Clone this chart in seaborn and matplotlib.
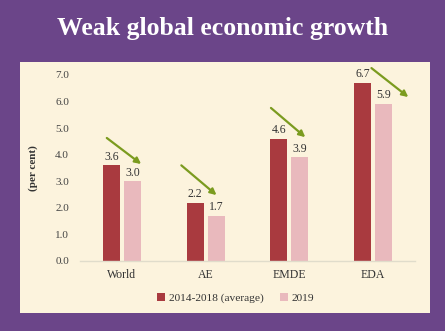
import matplotlib
matplotlib.use("Agg")
import matplotlib.pyplot as plt
import seaborn as sns
import pandas as pd
from matplotlib.patches import Rectangle

categories = ["World", "AE", "EMDE", "EDA"]
avg_2014_2018 = [3.6, 2.2, 4.6, 6.7]
y2019 = [3.0, 1.7, 3.9, 5.9]
series_names = ["2014-2018 (average)", "2019"]
arrow_start = [4.63, 3.6, 5.76, 7.26]
arrow_end = [3.65, 2.48, 4.66, 6.17]
yticks = [0.0, 1.0, 2.0, 3.0, 4.0, 5.0, 6.0, 7.0]

df = pd.DataFrame({
    "cat": categories * 2,
    "val": avg_2014_2018 + y2019,
    "series": [series_names[0]] * 4 + [series_names[1]] * 4,
})

sns.set_theme(style="white")
plt.rcParams["font.family"] = ["Liberation Serif", "DejaVu Serif"]

purple = "#6b4589"
cream = "#fcf3dd"
red = "#a93a3f"
pink = "#e9b9bd"
green = "#7b9b1f"

fig = plt.figure(figsize=(4.45, 3.31), dpi=100, facecolor=purple)
panel = Rectangle((20/445, 1-313/331), 410/445, 251/331,
                  transform=fig.transFigure, facecolor=cream,
                  edgecolor="none", zorder=-5)
fig.patches.append(panel)
fig.text(0.5, 1-29/331, "Weak global economic growth", color="white",
         fontsize=18.5, fontweight="bold", ha="center", va="center")

ax = fig.add_axes([80/445, 1-261/331, 335/445, 186/331])
ax.set_zorder(2)
ax.patch.set_alpha(0)
sns.barplot(data=df, x="cat", y="val", hue="series", palette=[red, pink],
            width=0.5, gap=0.18, ax=ax, legend=True, saturation=1, linewidth=0)

for c in ax.containers:
    ax.bar_label(c, fmt="%.1f", fontsize=8.5, color="#333333", padding=2)

# arrow horizontal offsets (in category units) relative to each category centre
start_dx = [-0.18, -0.29, -0.22, -0.02]
end_dx = [0.23, 0.13, 0.19, 0.42]
for i in range(len(categories)):
    ax.annotate("", xy=(i + end_dx[i], arrow_end[i]),
                xytext=(i + start_dx[i], arrow_start[i]),
                arrowprops=dict(arrowstyle="-|>", color=green, lw=1.6,
                                mutation_scale=9, shrinkA=0, shrinkB=0),
                annotation_clip=False)

ax.set_xlim(-0.5, 3.5)
ax.set_ylim(0, 7)
ax.set_yticks(yticks)
ax.set_yticklabels([f"{t:.1f}" for t in yticks], fontsize=8, color="#444444")
ax.tick_params(axis="x", labelsize=8.5, colors="#333333", length=0, pad=6)
ax.tick_params(axis="y", length=0, pad=8)
ax.set_xlabel("")
ax.set_ylabel("(per cent)", fontsize=8, fontweight="bold", color="#333333", labelpad=12)
for s in ["top", "right", "left"]:
    ax.spines[s].set_visible(False)
ax.spines["bottom"].set_color("#e0dccb")
ax.spines["bottom"].set_linewidth(1)

leg = ax.get_legend()
handles = leg.legend_handles
leg.remove()
fig.legend(handles, series_names, loc="center", bbox_to_anchor=(0.53, 1-298/331),
           ncol=2, frameon=False, fontsize=8.2, handlelength=0.7, handleheight=0.7,
           handletextpad=0.3, columnspacing=1.5, labelcolor="#333333")

fig.savefig("out.png", dpi=100, facecolor=purple)
